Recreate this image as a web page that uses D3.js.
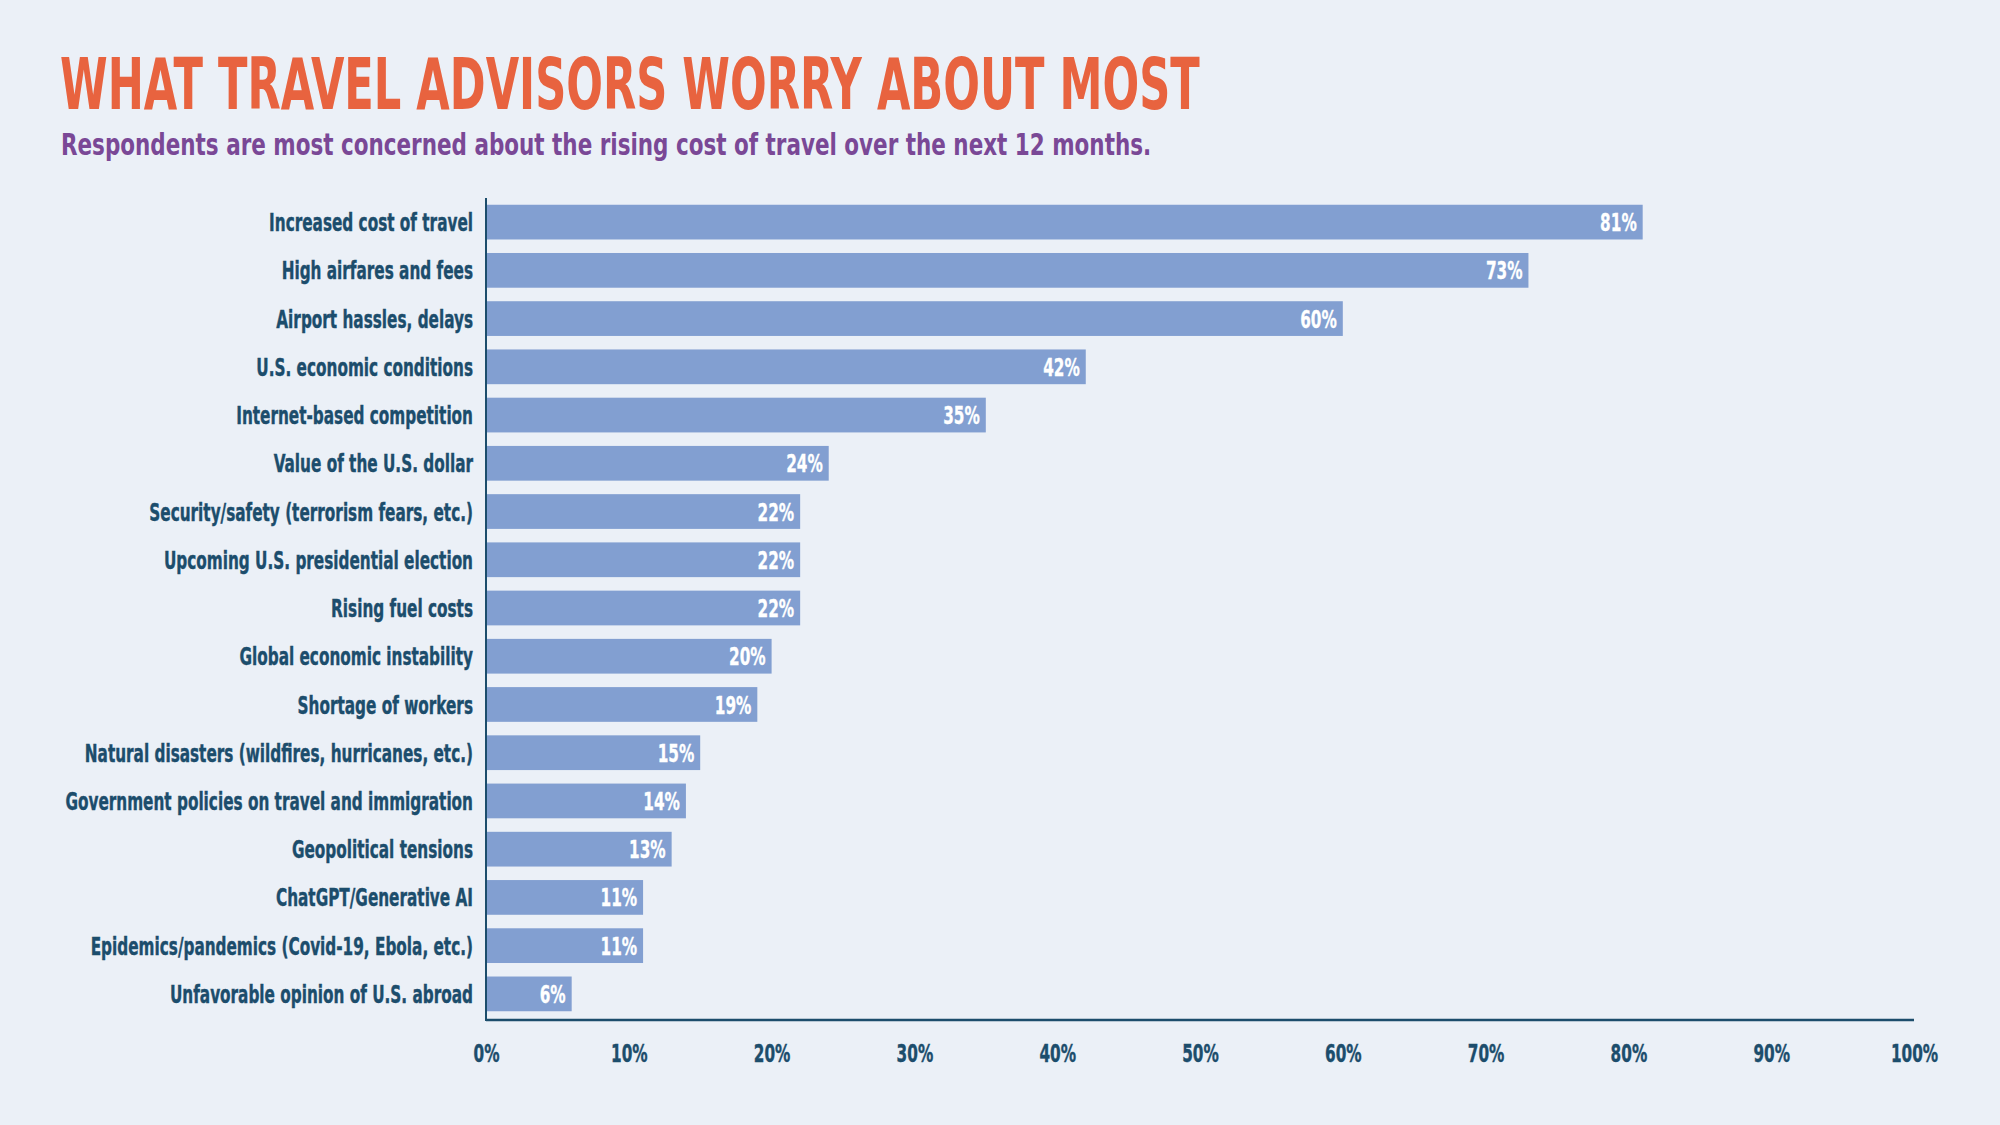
<!DOCTYPE html>
<html><head><meta charset="utf-8">
<script src="https://cdn.jsdelivr.net/npm/d3@7"></script>
<style>
html,body{margin:0;padding:0;background:#ebf0f7;}
svg{display:block;}
text{font-family:"Liberation Sans Narrow","DejaVu Sans Condensed","Arial Narrow",sans-serif;font-weight:bold;}
</style></head>
<body>
<svg id="c" width="2000" height="1125"></svg>
<script>
const title = "WHAT TRAVEL ADVISORS WORRY ABOUT MOST";
const subtitle = "Respondents are most concerned about the rising cost of travel over the next 12 months.";
const categories = [
  "Increased cost of travel",
  "High airfares and fees",
  "Airport hassles, delays",
  "U.S. economic conditions",
  "Internet-based competition",
  "Value of the U.S. dollar",
  "Security/safety (terrorism fears, etc.)",
  "Upcoming U.S. presidential election",
  "Rising fuel costs",
  "Global economic instability",
  "Shortage of workers",
  "Natural disasters (wildfires, hurricanes, etc.)",
  "Government policies on travel and immigration",
  "Geopolitical tensions",
  "ChatGPT/Generative AI",
  "Epidemics/pandemics (Covid-19, Ebola, etc.)",
  "Unfavorable opinion of U.S. abroad"
];
const values = [81,73,60,42,35,24,22,22,22,20,19,15,14,13,11,11,6];
const tickValues = [0,10,20,30,40,50,60,70,80,90,100];
const tickLabels = ["0%","10%","20%","30%","40%","50%","60%","70%","80%","90%","100%"];

const svg = d3.select("#c");
svg.append("rect").attr("width",2000).attr("height",1125).attr("fill","#ebf0f7");

const dark = "#1c4d6c";
const x = d3.scaleLinear().domain([0,100]).range([486,1914]);
const y = d3.scaleBand().domain(categories).range([198,1018]).paddingInner(0.28).paddingOuter(0.14);

// helper: horizontally condensed text
function condensed(sel, k){
  sel.each(function(){
    const t = d3.select(this);
    const tx = +t.attr("data-x"), ty = +t.attr("data-y");
    t.attr("x",0).attr("y",0).attr("transform",`translate(${tx},${ty}) scale(${k},1)`);
  });
}

// Title
const tt = svg.append("text").attr("data-x",60).attr("data-y",109)
  .attr("font-size",71).attr("fill","#e8633f").text(title);
let w = tt.node().getComputedTextLength();
condensed(tt, 1140 / w);

const st = svg.append("text").attr("data-x",61).attr("data-y",155)
  .attr("font-size",31).attr("fill","#7a4896").text(subtitle);
w = st.node().getComputedTextLength();
condensed(st, 1091 / w);

// Bars
svg.append("g").selectAll("rect").data(values).join("rect")
  .attr("x", x(0))
  .attr("y", (d,i)=>y(categories[i]))
  .attr("width", d=>x(d)-x(0))
  .attr("height", y.bandwidth())
  .attr("fill","#829fd1");

// Category labels
const labG = svg.append("g");
const labs = labG.selectAll("text").data(categories).join("text")
  .attr("data-x", 473)
  .attr("data-y", d=>y(d)+y.bandwidth()/2+1)
  .attr("font-size",24).attr("fill",dark)
  .attr("stroke",dark).attr("stroke-width",0.4)
  .attr("text-anchor","end").attr("dominant-baseline","central")
  .text(d=>d);
const kLab = 204 / labs.nodes()[0].getComputedTextLength();
condensed(labs, kLab);

// Value labels
const vals = svg.append("g").selectAll("text").data(values).join("text")
  .attr("data-x", d=>x(d)-6)
  .attr("data-y", (d,i)=>y(categories[i])+y.bandwidth()/2+1)
  .attr("font-size",24).attr("fill","#ffffff")
  .attr("stroke","#ffffff").attr("stroke-width",0.3)
  .attr("text-anchor","end").attr("dominant-baseline","central")
  .text(d=>d+"%");
condensed(vals, kLab);

// Axes
svg.append("line").attr("x1",x(0)).attr("x2",x(0)).attr("y1",198).attr("y2",1021)
  .attr("stroke",dark).attr("stroke-width",2);
svg.append("line").attr("x1",x(0)).attr("x2",x(100)).attr("y1",1020).attr("y2",1020)
  .attr("stroke",dark).attr("stroke-width",2.5);

const axis = d3.axisBottom(x).tickValues(tickValues).tickSize(0)
  .tickFormat((d,i)=>tickLabels[i]);
const ag = svg.append("g").attr("transform","translate(0,1040)").call(axis);
ag.select(".domain").remove();
ag.selectAll("text").attr("font-size",24).attr("fill",dark)
  .attr("stroke",dark).attr("stroke-width",0.4)
  .attr("font-family",null).attr("dy",null)
  .attr("dominant-baseline","central")
  .attr("data-x",0).attr("data-y",14);
condensed(ag.selectAll("text"), kLab);
</script>
</body></html>
